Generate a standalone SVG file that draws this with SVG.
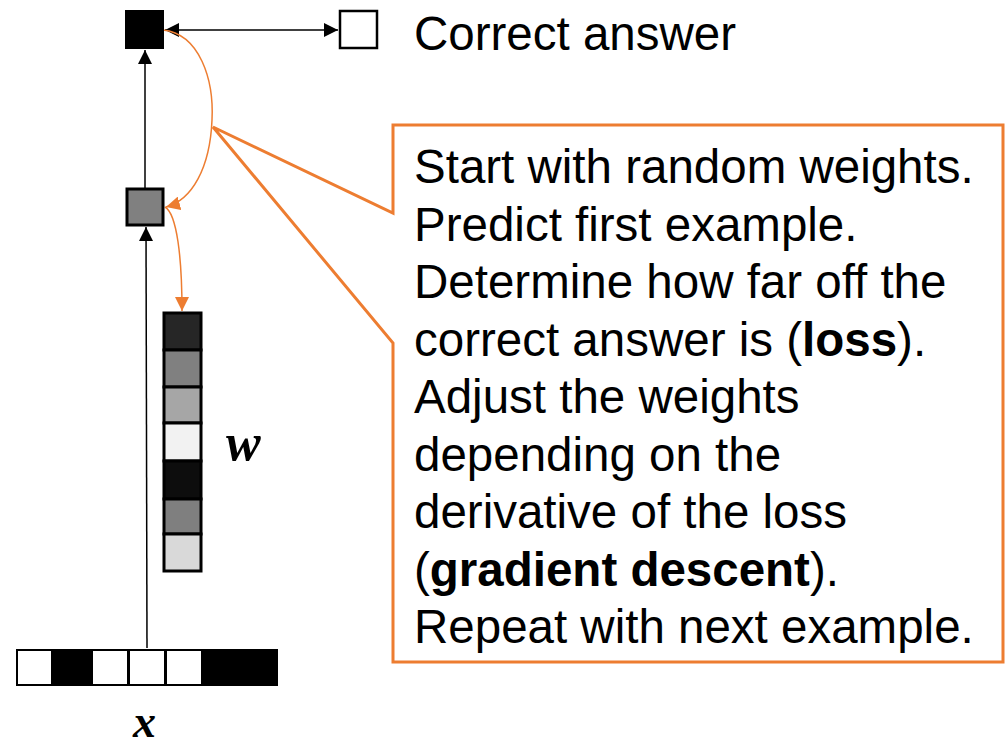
<svg xmlns="http://www.w3.org/2000/svg" width="1006" height="748" viewBox="0 0 1006 748">
  <defs>
    <style>
      .txt { font-family: "Liberation Sans", Arial, sans-serif; font-size: 47.5px; fill: #000; }
      .math { font-family: "Liberation Serif", "Times New Roman", serif; font-style: italic; font-weight: bold; fill: #000; }
      .cell { stroke: #000; stroke-width: 3; }
      .wire { stroke: #000; stroke-width: 1.5; fill: none; }
      .loop { stroke: #ED7D31; stroke-width: 1.5; fill: none; }
    </style>
    <marker id="blackHead" viewBox="0 0 10 10" refX="10" refY="5" markerWidth="14" markerHeight="14" markerUnits="userSpaceOnUse" orient="auto">
      <path d="M0,0 L10,5 L0,10 Z" fill="#000"/>
    </marker>
    <marker id="blackHeadStart" viewBox="0 0 10 10" refX="0" refY="5" markerWidth="14" markerHeight="14" markerUnits="userSpaceOnUse" orient="auto">
      <path d="M10,0 L0,5 L10,10 Z" fill="#000"/>
    </marker>
    <marker id="orangeHead" viewBox="0 0 10 10" refX="10" refY="5" markerWidth="14" markerHeight="14" markerUnits="userSpaceOnUse" orient="auto">
      <path d="M0,0 L10,5 L0,10 Z" fill="#ED7D31"/>
    </marker>
  </defs>

  <rect width="1006" height="748" fill="#fff"/>

  <!-- connectors -->
  <g id="connectors">
    <line x1="147" y1="648" x2="146" y2="227" class="wire" marker-end="url(#blackHead)"/>
    <line x1="145" y1="188" x2="145" y2="50" class="wire" marker-end="url(#blackHead)"/>
    <line x1="165" y1="30" x2="338" y2="30" stroke="#404040" stroke-width="2" marker-start="url(#blackHeadStart)" marker-end="url(#blackHead)"/>
    <path d="M163,30 C200,34 214,80 212,120 C210,168 192,200 166,207" class="loop" marker-end="url(#orangeHead)"/>
    <path d="M165,207 C177,214 182,258 182,311" class="loop" marker-end="url(#orangeHead)"/>
  </g>

  <!-- output unit -->
  <g id="node-output">
    <rect x="126" y="11" width="37" height="37" fill="#000" stroke="#000" stroke-width="2"/>
  </g>

  <!-- target -->
  <g id="node-target">
    <rect x="340" y="11" width="37" height="37" fill="#fff" stroke="#000" stroke-width="2.5"/>
    <text x="414" y="50" class="txt">Correct answer</text>
  </g>

  <!-- hidden unit -->
  <g id="node-hidden">
    <rect x="127" y="189" width="36" height="36" fill="#808080" stroke="#000" stroke-width="3"/>
  </g>

  <!-- weight vector -->
  <g id="node-weights">
    <rect x="164" y="313" width="37" height="37" fill="#262626" class="cell"/>
    <rect x="164" y="350" width="37" height="37" fill="#808080" class="cell"/>
    <rect x="164" y="387" width="37" height="36" fill="#a6a6a6" class="cell"/>
    <rect x="164" y="423" width="37" height="38" fill="#f2f2f2" class="cell"/>
    <rect x="164" y="461" width="37" height="38" fill="#0d0d0d" class="cell"/>
    <rect x="164" y="499" width="37" height="35" fill="#7f7f7f" class="cell"/>
    <rect x="164" y="534" width="37" height="37" fill="#d9d9d9" class="cell"/>
    <text x="226" y="460" class="math" font-size="52">w</text>
  </g>

  <!-- input vector -->
  <g id="node-input">
    <rect x="16" y="649" width="262" height="37" fill="#000"/>
    <rect x="17" y="650" width="35" height="35" fill="#fff" stroke="#000" stroke-width="2"/>
    <rect x="92" y="650" width="36" height="35" fill="#fff" stroke="#000" stroke-width="2"/>
    <rect x="129" y="650" width="36" height="35" fill="#fff" stroke="#000" stroke-width="2"/>
    <rect x="166" y="650" width="36" height="35" fill="#fff" stroke="#000" stroke-width="2"/>
    <text x="133" y="737" class="math" font-size="46">x</text>
  </g>

  <!-- explanation callout -->
  <g id="node-callout">
    <path d="M393,125 L1003,125 L1003,662 L393,662 L393,343 L213,127 L393,213 Z" fill="#fff" stroke="#ED7D31" stroke-width="3" stroke-linejoin="miter"/>
    <text class="txt">
      <tspan x="414" y="183">Start with random weights.</tspan>
      <tspan x="414" y="240.5">Predict first example.</tspan>
      <tspan x="414" y="298">Determine how far off the</tspan>
      <tspan x="414" y="355.5">correct answer is (<tspan font-weight="bold">loss</tspan>).</tspan>
      <tspan x="414" y="413">Adjust the weights</tspan>
      <tspan x="414" y="470.5">depending on the</tspan>
      <tspan x="414" y="528">derivative of the loss</tspan>
      <tspan x="414" y="585.5">(<tspan font-weight="bold">gradient descent</tspan>).</tspan>
      <tspan x="414" y="643">Repeat with next example.</tspan>
    </text>
  </g>
</svg>
